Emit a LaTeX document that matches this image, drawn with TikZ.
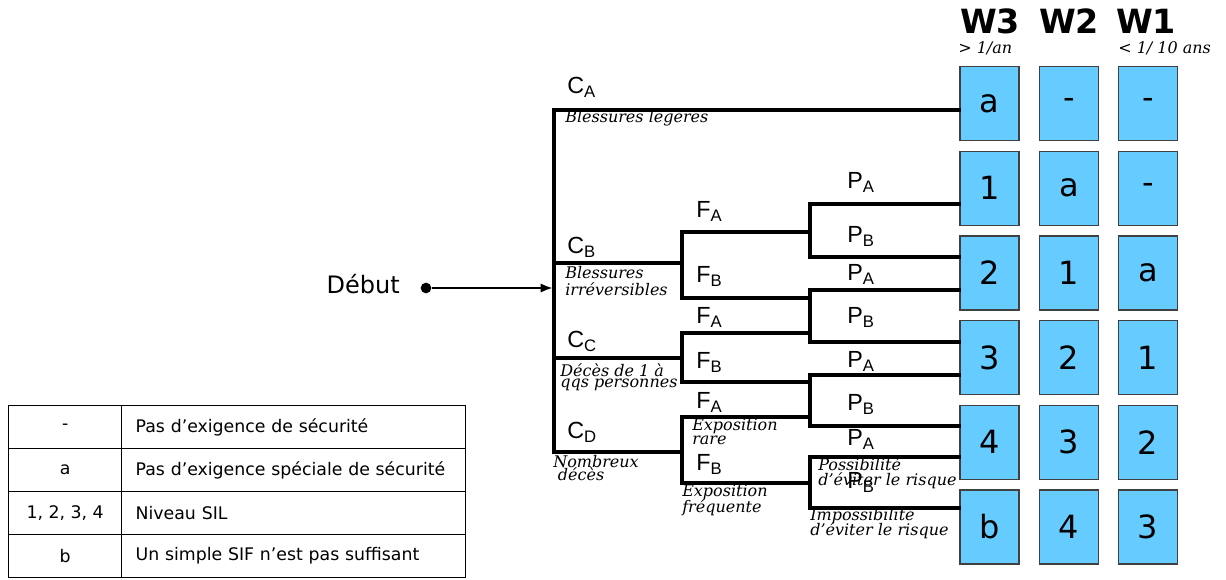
\documentclass[tikz,border=0pt]{standalone}
\usepackage{fontspec}
\setmainfont{DejaVu Sans}
\newfontfamily\arialfont{Liberation Sans}
\newfontfamily\slabfont{DejaVu Serif}
\usetikzlibrary{arrows.meta,positioning,calc}
\definecolor{silblue}{HTML}{66CCFF}
\newcommand{\grlbl}[2]{#1\raisebox{-3.5pt}{\fontsize{12.5}{12.5}\selectfont #2}}
\tikzset{
  branch/.style={line width=2.4pt, line cap=rect},
  silbox/.style={rectangle, draw=black!75, line width=0.9pt, fill=silblue, minimum width=44.25pt, minimum height=55.5pt, inner sep=0pt, font=\fontsize{24}{24}\selectfont},
  whead/.style={font=\bfseries\fontsize{25}{25}\selectfont, inner sep=0pt, anchor=base},
  freq/.style={font=\slabfont\itshape\fontsize{12}{12}\selectfont, inner sep=0pt, anchor=base west},
  parlabel/.style={font=\arialfont\fontsize{17.5}{17.5}\selectfont, inner sep=0pt, anchor=base west},
  note/.style={font=\slabfont\itshape\fontsize{12}{12}\selectfont, align=left, inner sep=0pt, anchor=base west},
  legkey/.style={rectangle, draw, line width=1pt, anchor=north west, minimum width=84.75pt, minimum height=32.25pt, inner sep=0pt, font=\fontsize{13}{13}\selectfont},
  legtext/.style={rectangle, draw, line width=1pt, anchor=north west, minimum width=258pt, minimum height=32.25pt, text width=237pt, inner xsep=10.5pt, inner ysep=0pt, align=left, font=\fontsize{13}{13}\selectfont},
  startdot/.style={circle, fill, inner sep=0pt, minimum size=8pt},
  flow/.style={line width=1.6pt, -{Latex[length=9pt,width=7pt]}},
}
\begin{document}
\begin{tikzpicture}[x=0.75pt, y=-0.75pt]
  \useasboundingbox (0,0) rectangle (1226,579);

  % SIL boxes, one row per leaf of the graph
  \foreach \vals [count=\r] in {{a,-,-},{1,a,-},{2,1,a},{3,2,1},{4,3,2},{b,4,3}}
    \foreach \v [count=\c] in \vals
      \node[silbox] (s-\r-\c) at ({989.5+79.3*(\c-1)}, {103.5+84.7*(\r-1)}) {\v};

  \node[whead] (w3) at (990,33) {W3};
  \node[whead] (w2) at (1069,33) {W2};
  \node[whead] (w1) at (1146,33) {W1};
  \node[freq] (fw3) at (958,53) {> 1/an};
  \node[freq] (fw1) at (1118,53) {< 1/ 10 ans};

  % branch points
  \coordinate (cA) at (554,110);
  \coordinate (cB) at (554,263);
  \coordinate (cC) at (554,358);
  \coordinate (cD) at (554,452);
  \coordinate (fBa) at (682,232); \coordinate (fBb) at (682,298);
  \coordinate (fCa) at (682,333); \coordinate (fCb) at (682,382);
  \coordinate (fDa) at (682,417); \coordinate (fDb) at (682,483);
  \coordinate (p1a) at (810,204); \coordinate (p1b) at (810,257);
  \coordinate (p2a) at (810,290); \coordinate (p2b) at (810,342);
  \coordinate (p3a) at (810,375); \coordinate (p3b) at (810,426);
  \coordinate (p4a) at (810,457); \coordinate (p4b) at (810,508);

  % consequence
  \draw[branch] (cA) -- (cD);
  \draw[branch] (cA) -- (cA -| s-1-1.west);
  \draw[branch] (cB) -- (cB -| fBa);
  \draw[branch] (cC) -- (cC -| fCa);
  \draw[branch] (cD) -- (cD -| fDa);
  % frequency
  \draw[branch] (fBa) -- (fBb);
  \draw[branch] (fCa) -- (fCb);
  \draw[branch] (fDa) -- (fDb);
  \draw[branch] (fBa) -- (fBa -| p1a);
  \draw[branch] (fBb) -- (fBb -| p2a);
  \draw[branch] (fCa) -- (fCa -| p2a);
  \draw[branch] (fCb) -- (fCb -| p3a);
  \draw[branch] (fDa) -- (fDa -| p3a);
  \draw[branch] (fDb) -- (fDb -| p4a);
  % avoidance
  \foreach \g in {1,...,4} \draw[branch] (p\g a) -- (p\g b);
  \foreach \p/\r in {p1a/2,p1b/3,p2a/3,p2b/4,p3a/4,p3b/5,p4a/5,p4b/6}
    \draw[branch] (\p) -- (\p -| s-\r-1.west);

  \node[startdot] (dot) at (426,288) {};
  \node[font=\fontsize{18}{18}\selectfont, inner sep=0pt, anchor=base east] (debut) at (400,293) {Début};
  \draw[flow, shorten >=1pt] (dot) -- (dot -| cA);

  \node[parlabel] (lca) at (567,93) {\grlbl{C}{A}};
  \node[parlabel] (lcb) at (567,253) {\grlbl{C}{B}};
  \node[parlabel] (lcc) at (567,347) {\grlbl{C}{C}};
  \node[parlabel] (lcd) at (567,438) {\grlbl{C}{D}};
  \node[parlabel] (lfba) at (696,217) {\grlbl{F}{A}};
  \node[parlabel] (lfbb) at (696,282) {\grlbl{F}{B}};
  \node[parlabel] (lfca) at (696,323) {\grlbl{F}{A}};
  \node[parlabel] (lfcb) at (696,368) {\grlbl{F}{B}};
  \node[parlabel] (lfda) at (696,408) {\grlbl{F}{A}};
  \node[parlabel] (lfdb) at (696,470) {\grlbl{F}{B}};
  \node[parlabel] (lp1a) at (847,188) {\grlbl{P}{A}};
  \node[parlabel] (lp1b) at (847,242) {\grlbl{P}{B}};
  \node[parlabel] (lp2a) at (847,280) {\grlbl{P}{A}};
  \node[parlabel] (lp2b) at (847,323) {\grlbl{P}{B}};
  \node[parlabel] (lp3a) at (847,367) {\grlbl{P}{A}};
  \node[parlabel] (lp3b) at (847,410) {\grlbl{P}{B}};
  \node[parlabel] (lp4a) at (847,445) {\grlbl{P}{A}};
  \node[parlabel] (lp4b) at (847,488) {\grlbl{P}{B}};

  % anchored on the baseline of the last line
  \node[note] (nca) at (565,122) {Blessures legères};
  \node[note] (ncb) at (565,295) {Blessures\\[0.75pt]irréversibles};
  \node[note] (ncc) at (560,387) {Décès de 1 à\\[-4pt]qqs personnes};
  \node[note] (ncd) at (553,480) {Nombreux\\[-2.25pt]\hspace*{3.5pt}décès};
  \node[note] (nfa) at (692,444) {Exposition\\[-1.5pt]rare};
  \node[note] (nfb) at (682,512) {Exposition\\[-1.5pt]fréquente};
  \node[note] (npa) at (818,485) {Possibilité\\[-0.75pt]d’éviter le risque};
  \node[note] (npb) at (810,535) {Impossibilité\\[-2.25pt]d’éviter le risque};

  % legend
  \foreach \k/\t [count=\i] in {-/{Pas d’exigence de sécurité}, a/{Pas d’exigence spéciale de sécurité}, {1, 2, 3, 4}/{Niveau SIL}, b/{Un simple SIF n’est pas suffisant}} {
    \node[legkey] (key-\i) at (8,{405+43*(\i-1)}) {\k};
    \node[legtext] (txt-\i) at (121,{405+43*(\i-1)}) {\t};
  }
\end{tikzpicture}
\end{document}
